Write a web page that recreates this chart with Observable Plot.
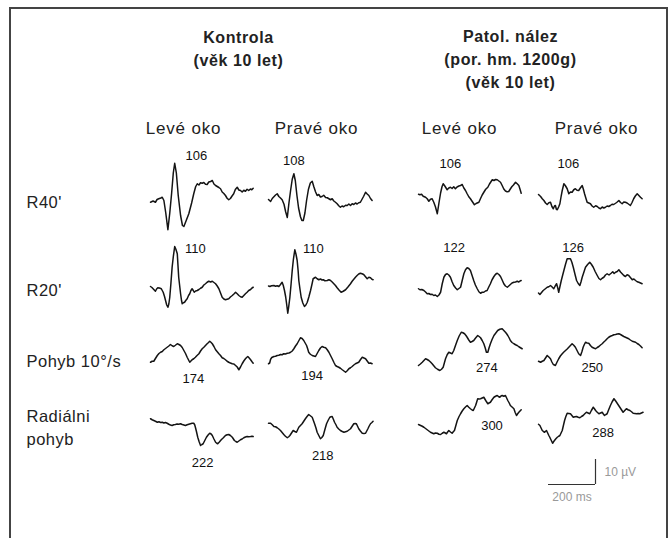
<!DOCTYPE html>
<html><head><meta charset="utf-8">
<script src="https://cdn.jsdelivr.net/npm/d3@7"></script>
<script src="https://cdn.jsdelivr.net/npm/@observablehq/plot@0.6"></script>
<style>
body{margin:0;background:#fff;}
#wrap{position:relative;width:672px;height:538px;overflow:hidden;}
#frame{position:absolute;left:9px;top:7px;width:655px;height:560px;border:2px solid #444;border-bottom:none;pointer-events:none;}
</style></head><body><div id="wrap"><div id="chart"></div><div id="frame"></div></div>
<script>
// ---------------- data ----------------
const groupTitles = ["Kontrola\n(věk 10 let)", "Patol. nález\n(por. hm. 1200g)\n(věk 10 let)"];
const eyeLabels = ["Levé oko", "Pravé oko", "Levé oko", "Pravé oko"];
const stimulusLabels = ["R40'", "R20'", "Pohyb 10°/s", "Radiálni\npohyb"];
const latencyMs = [[106, 108, 106, 106], [110, 110, 122, 126], [174, 194, 274, 250], [222, 218, 300, 288]];
const scaleBarMs = 200, scaleBarUv = 10;
const scaleBarLabels = ["200 ms", "10 \u00B5V"];

// waveforms: [time ms, amplitude µV]
const r40_KL = [[0,-4.7],[11,-4.2],[21,-4.7],[28,-3.6],[35,-3.3],[44,-3.0],[50,-2.7],[57,-4],[65,-9],[74,-15.7],[82,-9],[90,-1],[97,7],[103,10.9],[110,7],[118,-2],[128,-10],[136,-14],[142,-14.4],[152,-12],[163,-9.3],[175,-5],[184,-1.3],[192,1.5],[199,2.7],[206,2.2],[213,3.1],[220,2.9],[227,3.2],[234,2.5],[241,2.4],[248,3.4],[256,3.6],[263,4],[270,2.6],[277,2],[284,1.6],[291,1.2],[298,0.7],[305,-0.6],[312,-1.2],[319,-2],[326,-3.1],[333,-3.7],[340,-3.2],[347,-2.2],[354,-1.3],[361,0.4],[369,1.3],[376,0.2],[383,0],[390,-0.6],[397,0.1],[404,-0.3],[411,0.5],[418,0],[425,0.6],[431,0.3],[437,0.9]];
const r40_KP = [[0,-3.6],[9,-4.4],[16,-3.2],[23,-2.5],[30,-1.8],[37,-1.3],[44,-2.4],[51,-3.0],[58,-3.7],[66,-5.5],[73,-8.5],[80,-10.8],[87,-5],[94,0],[101,4.5],[108,6.7],[114,4],[121,-2],[128,-7],[136,-10.5],[142,-12],[148,-12],[155,-9],[162,-4],[170,0.5],[178,3.0],[186,3.7],[193,1.5],[200,-0.5],[207,-2],[214,-1.6],[221,-2.6],[228,-2.4],[235,-1.9],[243,-2.8],[250,-2.9],[257,-3.3],[264,-3.7],[271,-3.3],[278,-4.2],[285,-4.7],[292,-5.3],[299,-6.1],[306,-6.7],[313,-6.2],[320,-6.5],[328,-5.9],[335,-6],[342,-5.4],[349,-6],[356,-5.3],[363,-5.6],[370,-5.0],[377,-5.4],[384,-4.9],[391,-4.7],[398,-3.5],[405,-2.3],[413,-0.7],[420,-1.4],[427,-2],[434,-3.2],[441,-4]];
const r40_PL = [[0,-1.5],[6,-1.7],[13,-1.5],[20,-2.3],[30,-2.7],[37,-3.3],[44,-4.3],[51,-3.5],[58,-3.3],[65,-4.7],[72,-6.5],[80,-9.3],[87,-5],[94,-1],[100,1.5],[105,2.7],[112,1.8],[122,0.3],[129,1.0],[136,1.3],[143,0.8],[150,1.5],[157,0.7],[164,1.4],[172,1.8],[179,2.0],[186,2.4],[193,1.0],[200,0],[207,-1.3],[214,-2.5],[221,-3.3],[228,-4.3],[238,-5.7],[245,-5.2],[257,-4.7],[264,-3.2],[271,-1.8],[278,-0.7],[286,0.5],[295,1.3],[302,2.6],[309,3.6],[314,4.3],[321,4.0],[328,4.4],[335,4.3],[342,3.8],[349,3.3],[356,2.0],[363,0.6],[370,-0.2],[377,-0.5],[384,-0.4],[390,0.5],[397,1.5],[404,2.2],[413,3.3],[420,2.7],[427,2],[432,0.5],[437,-1.1]];
const r40_PP = [[0,-1.6],[9,-2.4],[16,-3.3],[23,-4],[30,-5.0],[37,-5.6],[44,-4.9],[51,-4.7],[57,-6.4],[63,-7.3],[68,-6.2],[72,-6],[76,-7.5],[80,-7.7],[86,-6.5],[91,-5.3],[96,-2.5],[101,0],[108,2.7],[114,2.0],[122,0.7],[129,-1.3],[136,-0.6],[143,-0.7],[150,0.3],[157,0.7],[164,0.1],[171,0],[178,1.0],[186,2],[191,0.5],[196,-1.3],[202,-3.2],[207,-4.7],[214,-5.0],[221,-5.3],[228,-6.2],[235,-6.7],[243,-6.1],[250,-6.4],[257,-7.0],[264,-7.3],[271,-6.6],[278,-7.0],[285,-6.7],[292,-6.2],[299,-6.4],[306,-6],[313,-5.5],[320,-5.6],[328,-5.1],[335,-4.6],[342,-4],[349,-4.8],[356,-5.3],[363,-4.6],[370,-4.7],[377,-5.0],[384,-5.5],[391,-6],[398,-4.8],[405,-3.3],[412,-2.2],[420,-1.3],[427,-2.0],[434,-2.7],[441,-3.3]];

const r20_KL = [[0,-2.4],[6,-2.8],[11,-3.3],[16,-3.8],[21,-4.3],[26,-3.4],[31,-2.9],[38,-3.0],[46,-3.3],[54,-4.7],[60,-6.5],[64,-8],[69,-9.8],[74,-10.7],[78,-9.4],[82,-6.7],[87,-1],[92,5.3],[97,9.5],[103,13.6],[108,12.5],[114,10.7],[117,6],[120,1.3],[124,-2],[128,-5.3],[132,-8],[135,-9.3],[140,-8.9],[145,-8.7],[150,-8.0],[156,-7.3],[162,-6.0],[167,-5.3],[172,-4.0],[177,-3.3],[182,-4.0],[186,-4.7],[192,-4.2],[199,-4],[206,-3.6],[213,-3.1],[220,-2.7],[227,-1.8],[234,-1.3],[241,-0.7],[248,-0.3],[256,-0.6],[263,-0.3],[270,-0.8],[277,-1.3],[284,-2.2],[291,-3.3],[298,-5.0],[305,-6.7],[312,-7.4],[319,-7.7],[326,-7.5],[333,-7.3],[340,-6.6],[348,-6],[355,-5.4],[362,-4.7],[369,-5.3],[376,-6],[383,-6.5],[390,-6.7],[397,-6.0],[404,-5.3],[411,-4.7],[418,-4],[426,-3.6],[432,-3.0],[437,-2.7]];
const r20_KP = [[0,-2.2],[6,-2.4],[13,-2.1],[23,-2],[30,-2.3],[37,-2.1],[44,-2.4],[51,-1.6],[58,-0.7],[63,-2.0],[68,-4],[73,-6.5],[77,-9.3],[82,-13.1],[86,-10.5],[91,-6.7],[96,-1.5],[101,4],[106,8.5],[112,12.3],[117,10.5],[122,8],[126,4],[129,0],[134,-3.5],[139,-6.7],[146,-9.0],[153,-10.4],[159,-9.8],[165,-8.7],[172,-6.5],[179,-4],[185,-1.5],[190,0.7],[195,1.0],[200,1.3],[207,0.7],[214,0.3],[221,0.6],[228,0.2],[233,0.3],[240,-0.1],[250,0],[257,0.3],[264,0],[271,-0.6],[278,-1.3],[285,-2.0],[292,-2.9],[300,-3.8],[309,-4.7],[318,-4.3],[328,-3.7],[338,-2.6],[349,-1.3],[356,-0.3],[363,0.5],[370,1.3],[377,2.0],[384,2.6],[391,2.9],[398,2.7],[405,2.4],[412,1.6],[420,0.7],[427,1.3],[434,1.1],[440,0.5],[445,0.3]];
const r20_PL = [[0,-3.3],[6,-3.7],[14,-3.6],[23,-4],[30,-4.6],[37,-5.3],[44,-5.2],[51,-5.6],[58,-5.5],[65,-6],[72,-5.8],[80,-6.4],[87,-5.8],[94,-4.7],[101,-1.3],[108,1.3],[115,2.4],[122,2.7],[129,2.2],[136,1.3],[143,-0.5],[150,-2],[158,-3.0],[165,-3.7],[172,-3.2],[179,-2.7],[186,0],[193,2.7],[200,4.3],[207,5.1],[214,4.8],[221,4],[228,2.0],[235,0],[242,-1.8],[250,-3.3],[257,-4.5],[264,-5.1],[271,-4.7],[278,-4.7],[285,-4.2],[292,-4],[299,-2.6],[306,-1.3],[313,0.3],[321,1.6],[328,2.5],[335,2.9],[342,2.4],[349,1.6],[356,0.2],[363,-1.3],[370,-2.2],[378,-2.7],[384,-2.2],[391,-1.6],[398,-1.0],[406,-0.7],[413,-0.6],[420,-0.3],[427,-0.6],[432,-0.2],[437,0]];
const r20_PP = [[0,-5.0],[6,-5.6],[13,-4.8],[20,-4],[28,-3.4],[37,-2.7],[44,-2.5],[51,-2],[58,-2.6],[65,-3.3],[71,-2.2],[77,-1.3],[82,-3.0],[86,-4.7],[91,-2.5],[97,0],[103,2.2],[108,4],[115,6.5],[122,8.7],[129,8.7],[136,8.7],[142,7.3],[148,5.3],[155,2.6],[162,0],[169,-1.2],[176,-2],[181,-0.5],[186,1.3],[193,3.3],[200,5.3],[209,6.4],[218,7.3],[225,6.5],[233,5.3],[241,3.6],[250,2],[257,0.8],[264,0.3],[271,0.9],[278,1.3],[285,2.2],[292,2.7],[300,2.2],[309,2.9],[316,3.5],[322,2.8],[328,3.3],[335,3.6],[342,4.3],[349,3.4],[356,2.7],[363,2.0],[370,1.6],[377,2.3],[384,2],[391,1.2],[399,0.3],[406,0.6],[413,0],[420,-0.5],[427,-0.7],[434,-1.0],[441,-1.3]];

const mov_KL = [[0,-2.7],[7,-2.3],[14,-2.3],[21,-1.2],[29,0],[36,0.8],[43,1.3],[50,1.6],[57,2.3],[64,2.8],[71,3.3],[78,3.8],[85,4.4],[92,3.9],[99,3.6],[106,4.1],[114,4.7],[121,4.4],[128,4],[135,3.2],[142,2],[149,0.8],[156,-0.7],[162,-1.8],[167,-2.7],[172,-2.2],[177,-1.7],[184,-1.3],[191,-0.7],[198,0],[206,0.7],[213,1.8],[220,2.7],[227,3.3],[234,4],[241,4.7],[247,5.2],[252,5.7],[257,5.3],[263,4.7],[270,3.6],[277,2.3],[284,1.5],[291,0.7],[298,0],[305,-0.9],[312,-1.2],[319,-1.7],[326,-2.3],[333,-2.7],[340,-3.0],[348,-3.3],[355,-3.4],[362,-4],[369,-4.6],[376,-5.7],[383,-4.6],[390,-3.3],[397,-2.2],[404,-1.3],[409,-0.8],[414,-0.4],[420,-1.0],[426,-1.7],[432,-2.5],[437,-3.1]];
const mov_KP = [[0,-3.3],[5,-3.0],[9,-1.5],[14,-0.8],[23,-0.4],[30,-0.3],[37,0],[44,0.1],[51,0.4],[58,0.3],[65,0.7],[72,0.6],[80,0.9],[87,1.0],[94,1.3],[101,1.8],[108,2.7],[115,3.8],[122,4.7],[129,5.9],[136,7.1],[143,6.8],[150,6],[156,5.0],[162,4],[167,2.6],[171,1.3],[178,0.5],[186,0],[193,-0.2],[200,-0.4],[207,0.8],[214,2],[221,3.0],[228,3.6],[235,3.3],[243,3.1],[250,2.3],[257,1.3],[264,0],[271,-1.3],[278,-2.7],[285,-4],[292,-4.4],[299,-4.7],[306,-5.1],[314,-5.7],[321,-6.2],[328,-6.7],[335,-6.1],[342,-5.3],[349,-4.9],[356,-4.4],[363,-3.8],[370,-3.3],[377,-3.0],[384,-2.7],[391,-1.7],[399,-0.7],[406,-1.0],[413,-1.3],[420,-2.2],[427,-3.1],[434,-3.0],[441,-3.3]];
const mov_PL = [[0,-4],[8,-3.4],[16,-2.7],[23,-2.0],[30,-1.3],[37,-1.6],[44,-2],[51,-2.6],[58,-3.3],[65,-4.1],[72,-4.9],[81,-5.5],[91,-6],[98,-5.5],[105,-4.7],[110,-3.0],[115,-1.3],[122,0.3],[129,1.3],[136,1.0],[143,0.7],[150,2],[157,3.9],[165,6],[173,7.8],[182,9.3],[189,9.1],[196,8.7],[202,8.0],[207,7.3],[214,6.2],[221,5.3],[228,5.6],[235,6],[243,7.0],[252,8],[258,7.6],[264,7.1],[271,6.0],[278,4.7],[284,3.0],[289,1.3],[295,1.3],[300,3.0],[306,4.7],[313,6.4],[321,8],[329,9.0],[337,10],[346,10.5],[356,10.7],[363,10.0],[370,9.3],[375,8.7],[380,8],[386,7.0],[391,6],[398,5.2],[406,4.7],[413,4.3],[420,4],[427,3.5],[434,3.1],[441,2.7]];
const mov_PP = [[0,-2.3],[9,-2.7],[16,-2.3],[23,-2],[30,-1.0],[37,0],[44,-0.6],[51,-1.3],[57,-2.6],[63,-3.6],[68,-3.8],[72,-4],[79,-2.6],[86,-1.3],[93,-0.2],[101,0.7],[108,1.4],[115,2],[122,2.6],[129,3.3],[136,4.0],[143,4.7],[150,4.1],[157,3.3],[164,2.0],[171,0.7],[179,0],[185,1.6],[190,3.3],[195,4.4],[200,5.3],[207,5.0],[214,4.9],[221,4.0],[228,3.3],[235,3.0],[243,2.7],[250,3.2],[257,3.6],[264,4.2],[271,4.7],[278,5.4],[285,6],[292,6.7],[299,7.3],[306,7.7],[314,8],[321,8.3],[328,8.4],[335,8.6],[342,8.7],[349,8.4],[356,8],[363,7.6],[370,7.3],[377,7.0],[384,6.7],[391,6.2],[399,5.7],[406,5.5],[413,5.3],[420,4.8],[427,4.4],[434,3.8],[441,3.1]];

const rad_KL = [[0,2.7],[7,2.3],[14,2],[21,1.7],[29,1.3],[36,1.5],[43,1.2],[50,1.3],[57,1.0],[64,1.2],[71,0.9],[78,0.5],[85,0.2],[92,0],[99,0.3],[106,0.4],[113,0.6],[120,0.5],[128,0.7],[135,0.4],[142,0.2],[149,0],[156,0.3],[163,0.5],[170,0.7],[177,0.9],[184,0.9],[188,0.3],[191,-0.7],[196,-2.6],[201,-4.7],[207,-6.5],[213,-8],[219,-7.6],[224,-7.3],[231,-6.0],[238,-4.7],[245,-3.8],[252,-3.1],[258,-3.4],[263,-4],[270,-5.4],[277,-6.7],[282,-7.1],[286,-7.3],[293,-6.6],[301,-5.7],[310,-4.9],[319,-4],[326,-3.7],[333,-3.6],[340,-4.0],[348,-4.7],[353,-5.4],[357,-6],[363,-6.4],[369,-6.7],[376,-6.2],[383,-5.7],[390,-5.4],[397,-4.9],[404,-4.6],[411,-4.4],[418,-4.5],[426,-4.4],[432,-4.3],[437,-4.4]];
const rad_KP = [[0,0.9],[9,0.9],[16,0.3],[23,-0.4],[30,-0.5],[37,-0.9],[44,-1.4],[51,-2],[58,-2.8],[65,-3.6],[72,-4.3],[80,-4.9],[86,-4.5],[91,-4],[98,-3.0],[105,-2],[112,-2.4],[119,-2.7],[124,-1.7],[129,-0.7],[136,0],[143,0.7],[150,1.7],[157,2.7],[164,3.6],[171,4.4],[178,3.9],[186,3.3],[191,2.0],[196,0.7],[202,-1.0],[207,-2.7],[214,-4.0],[221,-5.3],[227,-4.8],[233,-4],[240,-1.6],[247,0.7],[254,2.1],[261,3.3],[266,3.5],[271,3.6],[276,2.5],[281,1.3],[287,0.3],[292,-0.7],[299,-1.4],[306,-2],[314,-2.4],[321,-2.7],[328,-2.5],[335,-2.3],[342,-1.8],[349,-1.3],[356,-0.3],[363,0.7],[369,0.8],[374,0.7],[379,-0.3],[384,-1.3],[391,-2.2],[399,-3.1],[406,-3.2],[413,-3.1],[418,-2.2],[423,-1.3],[428,-0.3],[434,0.7],[440,1.2],[445,1.7]];
const rad_PL = [[0,0.4],[9,0],[16,-0.3],[23,-0.7],[30,-1.2],[37,-1.7],[44,-2.2],[51,-2.7],[58,-3.0],[65,-3.3],[72,-3.0],[80,-3.1],[87,-3.5],[94,-3.6],[101,-3.1],[108,-2.7],[114,-3.0],[119,-3.3],[124,-2.6],[129,-2],[136,-2.6],[143,-3.1],[148,-2.5],[153,-2],[159,0],[165,2],[172,3.5],[179,4.7],[186,5.8],[193,6.7],[200,7.4],[207,8],[214,7.3],[221,6.7],[228,6.2],[233,6],[238,7.0],[243,8],[248,9.5],[252,10.7],[258,10.6],[264,10.7],[271,11.0],[278,11.3],[286,10.0],[295,8.7],[300,9.0],[306,9.3],[313,10.3],[321,11.3],[328,11.7],[335,12],[340,11.6],[346,11.3],[351,11.8],[356,12],[363,11.7],[370,12],[375,11.0],[380,10],[386,9.0],[391,8],[398,7.4],[406,6.7],[411,5.3],[417,4],[422,4.7],[427,5.3],[432,5.8],[437,6.3]];
const rad_PP = [[0,0.5],[6,0],[11,-1.0],[16,-2],[21,-2.4],[26,-2.7],[30,-2.3],[34,-2],[39,-3.0],[44,-4],[48,-4.7],[51,-5.3],[56,-6.3],[60,-7.1],[64,-6.5],[68,-6],[74,-5.3],[80,-4.7],[86,-4.3],[91,-4],[96,-3.0],[101,-2],[106,0],[111,2],[116,3.5],[122,4.9],[129,4.8],[136,4.7],[142,4.0],[148,3.3],[155,3.5],[162,3.6],[169,3.3],[176,3.1],[183,3.6],[190,4],[197,4.7],[204,5.3],[211,5.0],[218,4.7],[225,6.0],[233,7.3],[238,6.7],[243,6],[250,5.3],[257,4.7],[264,5.0],[271,5.3],[276,4.6],[281,4],[287,4.4],[292,4.7],[299,6.4],[306,8],[313,9.4],[321,10.7],[327,10.0],[332,9.3],[339,8.3],[346,7.3],[353,6.3],[360,5.3],[367,6.0],[374,6.7],[381,6.3],[389,6],[396,5.5],[403,4.9],[410,4.8],[417,4.7],[424,4.8],[431,4.7],[438,5.0],[445,5.3]];

// ---------------- layout (pixels) ----------------
const W = 672, H = 538;
const PX_PER_MS = 47 / scaleBarMs;   // horizontal calibration
const PX_PER_UV = 25 / scaleBarUv;   // vertical calibration
const X = px => px / PX_PER_MS;       // pixel -> ms
const Y = py => (H - py) / PX_PER_UV; // pixel -> µV
const colLeft = [150, 268, 418, 538];
const rowBase = [190, 280, 355, 425];
const labelDx = [[21, 0, 7, 5], [19, 19, 7, 5], [2, -2, 4, -5], [0, 3, 3, -3]];
const labelDy = [[-35, -30, -27, -27], [-32, -32, -33, -33], [23, 20, 12, 12], [37, 30, 0, 7]];
const rowLabelX = 26, rowLabelY = [200, 288, 359, 425.5];
const titleX = [238, 510], titleY = [46.5, 57.5];
const eyeX = [183, 316, 459, 596], eyeY = 128;
const barCorner = [595, 484];

const traces = [
  [r40_KL, r40_KP, r40_PL, r40_PP],
  [r20_KL, r20_KP, r20_PL, r20_PP],
  [mov_KL, mov_KP, mov_PL, mov_PP],
  [rad_KL, rad_KP, rad_PL, rad_PP]
];
const lineData = traces.flatMap((row, r) => row.flatMap((tr, c) =>
  tr.map(([t, v]) => ({id: r * 4 + c, x: X(colLeft[c]) + t, y: Y(rowBase[r]) + v}))));
const labelData = latencyMs.flatMap((row, r) => row.map((lat, c) => ({
  x: X(colLeft[c]) + lat + labelDx[r][c] / PX_PER_MS,
  y: Y(rowBase[r]) - labelDy[r][c] / PX_PER_UV,
  text: String(lat)})));
const rowData = stimulusLabels.map((s, r) => ({x: X(rowLabelX), y: Y(rowLabelY[r]), text: s}));
const eyeData = eyeLabels.map((s, c) => ({x: X(eyeX[c]), y: Y(eyeY), text: s}));
const titleData = groupTitles.map((s, i) => ({x: X(titleX[i]), y: Y(titleY[i]), text: s}));
const bx = X(barCorner[0]), by = Y(barCorner[1]);

const font = "'Liberation Sans', Arial, sans-serif";
const chart = Plot.plot({
  width: W, height: H, margin: 0,
  style: {fontFamily: font, background: "transparent"},
  x: {domain: [0, X(W)], axis: null},
  y: {domain: [0, Y(0)], axis: null},
  marks: [
    Plot.line(lineData, {x: "x", y: "y", z: "id", stroke: "#141414", strokeWidth: 1.5, strokeLinejoin: "round"}),
    Plot.text(labelData, {x: "x", y: "y", text: "text", fontSize: 13, fill: "#111"}),
    Plot.text(rowData, {x: "x", y: "y", text: "text", textAnchor: "start", fontSize: 16.5, lineHeight: 1.4, fill: "#222"}),
    Plot.text(eyeData, {x: "x", y: "y", text: "text", fontSize: 17, fill: "#222"}),
    Plot.text(titleData, {x: "x", y: "y", text: "text", fontSize: 16, fontWeight: "bold", lineHeight: 1.44, fill: "#222"}),
    Plot.ruleY([0], {x1: bx - scaleBarMs, x2: bx, y: by, stroke: "#333", strokeWidth: 1.2}),
    Plot.ruleX([0], {x: bx, y1: by, y2: by + scaleBarUv, stroke: "#333", strokeWidth: 1.2}),
    Plot.text([scaleBarLabels[0]], {x: bx - scaleBarMs / 2, y: Y(barCorner[1] + 13), text: d => d, fontSize: 12, fill: "#999"}),
    Plot.text([scaleBarLabels[1]], {x: X(barCorner[0] + 9), y: Y(barCorner[1] - 12), text: d => d, textAnchor: "start", fontSize: 12, fill: "#999"})
  ]
});
// slightly wider letter spacing for the labels, as in the scanned figure
const textGroups = chart.querySelectorAll('g[aria-label="text"]');
[[1, "0.5px"], [2, "0.8px"], [3, "0.6px"]].forEach(([i, ls]) => textGroups[i] && textGroups[i].setAttribute("letter-spacing", ls));
document.getElementById("chart").appendChild(chart);
</script></body></html>
